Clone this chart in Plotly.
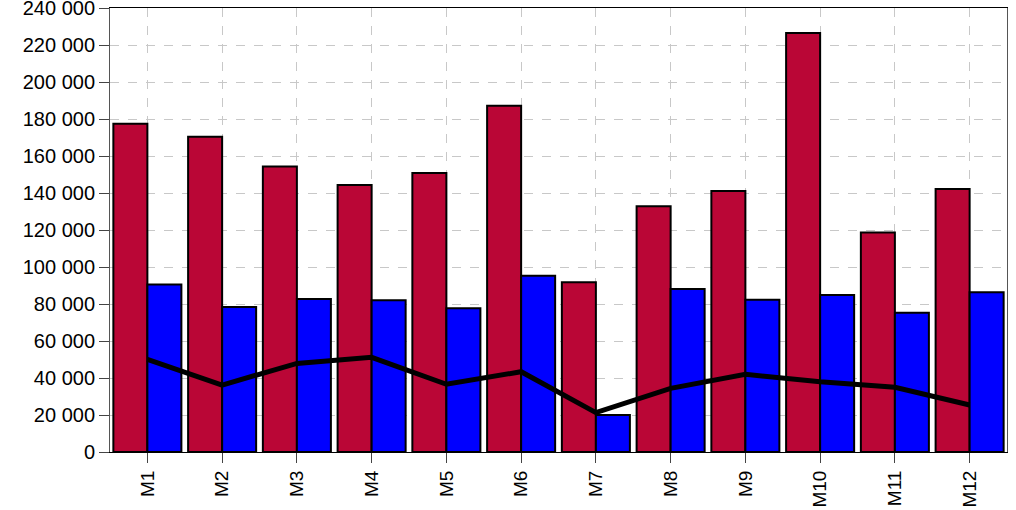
import plotly.graph_objects as go

categories = ["M1", "M2", "M3", "M4", "M5", "M6", "M7", "M8", "M9", "M10", "M11", "M12"]
red_values = [177500, 170400, 154300, 144300, 150800, 187200, 91700, 132800, 141100, 226500, 118700, 142100]
blue_values = [90600, 78400, 82700, 82000, 77700, 95300, 20000, 88100, 82300, 84900, 75300, 86300]
line_values = [50100, 36200, 47900, 51200, 36600, 43400, 21300, 34400, 42000, 38000, 35000, 25400]
y_ticks = list(range(0, 240001, 20000))

fig = go.Figure()
fig.add_trace(go.Bar(x=categories, y=red_values, name="A",
                     marker=dict(color="#BA0636", line=dict(color="black", width=2))))
fig.add_trace(go.Bar(x=categories, y=blue_values, name="B",
                     marker=dict(color="#0000FF", line=dict(color="black", width=2))))
fig.add_trace(go.Scatter(x=categories, y=line_values, mode="lines", name="C",
                         line=dict(color="black", width=5)))

fig.update_layout(
    width=1016, height=510,
    margin=dict(l=110, r=9, t=8, b=58),
    paper_bgcolor="white", plot_bgcolor="white",
    barmode="group", bargap=0.09, bargroupgap=0,
    showlegend=False,
    separators=". ",
    font=dict(family="Liberation Sans, Arial, sans-serif", size=20, color="black"),
)
fig.update_xaxes(
    type="category", range=[-0.5, 11.5], automargin=False,
    tickangle=-90, ticks="outside", ticklen=10, tickcolor="#444",
    showgrid=True, gridcolor="#c8c8c8", griddash="dash", gridwidth=1,
    showline=True, linecolor="black", linewidth=1, mirror=True,
    tickfont=dict(size=19),
)
fig.update_yaxes(
    range=[0, 240000], tickvals=y_ticks, tickformat=",d", automargin=False,
    ticklabeloverflow="allow",
    ticks="outside", ticklen=10, tickcolor="#444",
    showgrid=True, gridcolor="#c8c8c8", griddash="dash", gridwidth=1,
    showline=True, linecolor="#555", linewidth=1, mirror=True,
    zeroline=False, tickfont=dict(size=20),
)

fig.write_html(
    "out.html",
    config={"displayModeBar": False},
    post_script="document.body.style.margin='0';document.body.style.overflow='hidden';",
)
